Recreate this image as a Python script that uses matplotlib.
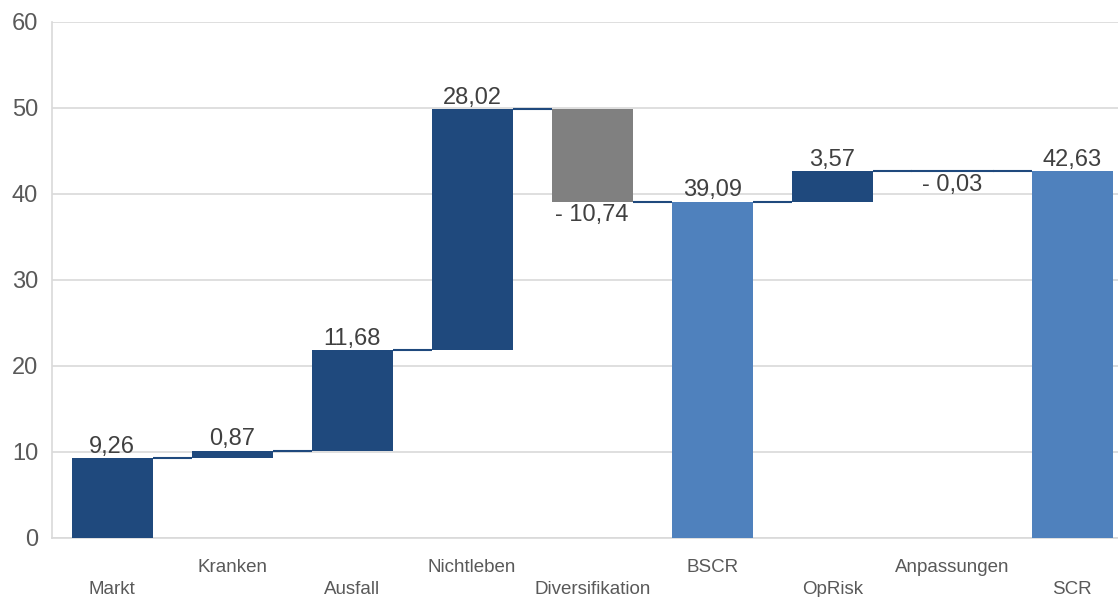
import numpy as np
from matplotlib import pyplot as plt
from matplotlib import transforms

categories = ['Markt', 'Kranken', 'Ausfall', 'Nichtleben', 'Diversifikation',
              'BSCR', 'OpRisk', 'Anpassungen', 'SCR']
values = [9.26, 0.87, 11.68, 28.02, -10.74, 39.09, 3.57, -0.03, 42.63]
is_total = [False, False, False, False, False, True, False, False, True]

DARK = '#1F497D'
GREY = '#808080'
LIGHT = '#4F81BD'

plt.rcParams['font.family'] = ['Liberation Sans', 'DejaVu Sans']


def fmt(v):
    s = '{:.2f}'.format(abs(v)).replace('.', ',')
    return '- ' + s if v < 0 else s


def main():
    fig = plt.figure(figsize=(11.18, 5.97), dpi=100)
    ax = fig.add_axes([52 / 1118, 59 / 597, 1066 / 1118, 516 / 597])

    x = np.arange(len(categories))
    width = 0.675
    bottoms, tops, colors = [], [], []
    running = 0.0
    for v, tot in zip(values, is_total):
        if tot:
            bottoms.append(0.0)
            tops.append(v)
            running = v
            colors.append(LIGHT)
        else:
            start = running
            running = running + v
            bottoms.append(min(start, running))
            tops.append(max(start, running))
            colors.append(GREY if v < -1 else DARK)

    heights = [t - b for t, b in zip(tops, bottoms)]
    ax.bar(x, heights, width, bottom=bottoms, color=colors, zorder=3)

    # connector lines
    level = 0.0
    for i, (v, tot) in enumerate(zip(values, is_total)):
        level = v if tot else level + v
        if i < len(values) - 1:
            ax.plot([x[i] + width / 2, x[i + 1] - width / 2], [level, level],
                    color=DARK, lw=1.5, zorder=4, solid_capstyle='butt')
    # tiny Anpassungen step, drawn as a line so it shows
    ax.plot([x[7] - width / 2, x[7] + width / 2], [tops[7], tops[7]],
            color=DARK, lw=1.5, zorder=4)

    for i, v in enumerate(values):
        if v < 0:
            ax.text(x[i], bottoms[i] - 0.3, fmt(v), ha='center', va='top',
                    fontsize=17, color='#404040')
        else:
            ax.text(x[i], tops[i] + 0.05, fmt(v), ha='center', va='bottom',
                    fontsize=17, color='#404040')

    ax.set_ylim(0, 60)
    ax.set_xlim(-0.5, 8.38)
    ax.set_yticks(range(0, 61, 10))
    ax.tick_params(axis='y', length=0, labelsize=17, labelcolor='#595959', pad=10)
    ax.set_xticks([])
    ax.grid(axis='y', color='#D9D9D9', lw=1.2, zorder=0)
    for s in ['top', 'right']:
        ax.spines[s].set_visible(False)
    ax.spines['left'].set_color('#D9D9D9')
    ax.spines['bottom'].set_color('#D9D9D9')
    ax.spines['left'].set_linewidth(1.2)
    ax.spines['bottom'].set_linewidth(1.2)

    # staggered category labels
    for i, c in enumerate(categories):
        ypix = 589 if i % 2 == 0 else 567
        off = transforms.ScaledTranslation(0, -(ypix - 538) / 100, fig.dpi_scale_trans)
        ax.text(x[i], 0, c, ha='center', va='center', fontsize=13.5, color='#595959',
                transform=ax.get_xaxis_transform() + off)

    fig.savefig('out.png', dpi=100)


if __name__ == "__main__":
    main()
